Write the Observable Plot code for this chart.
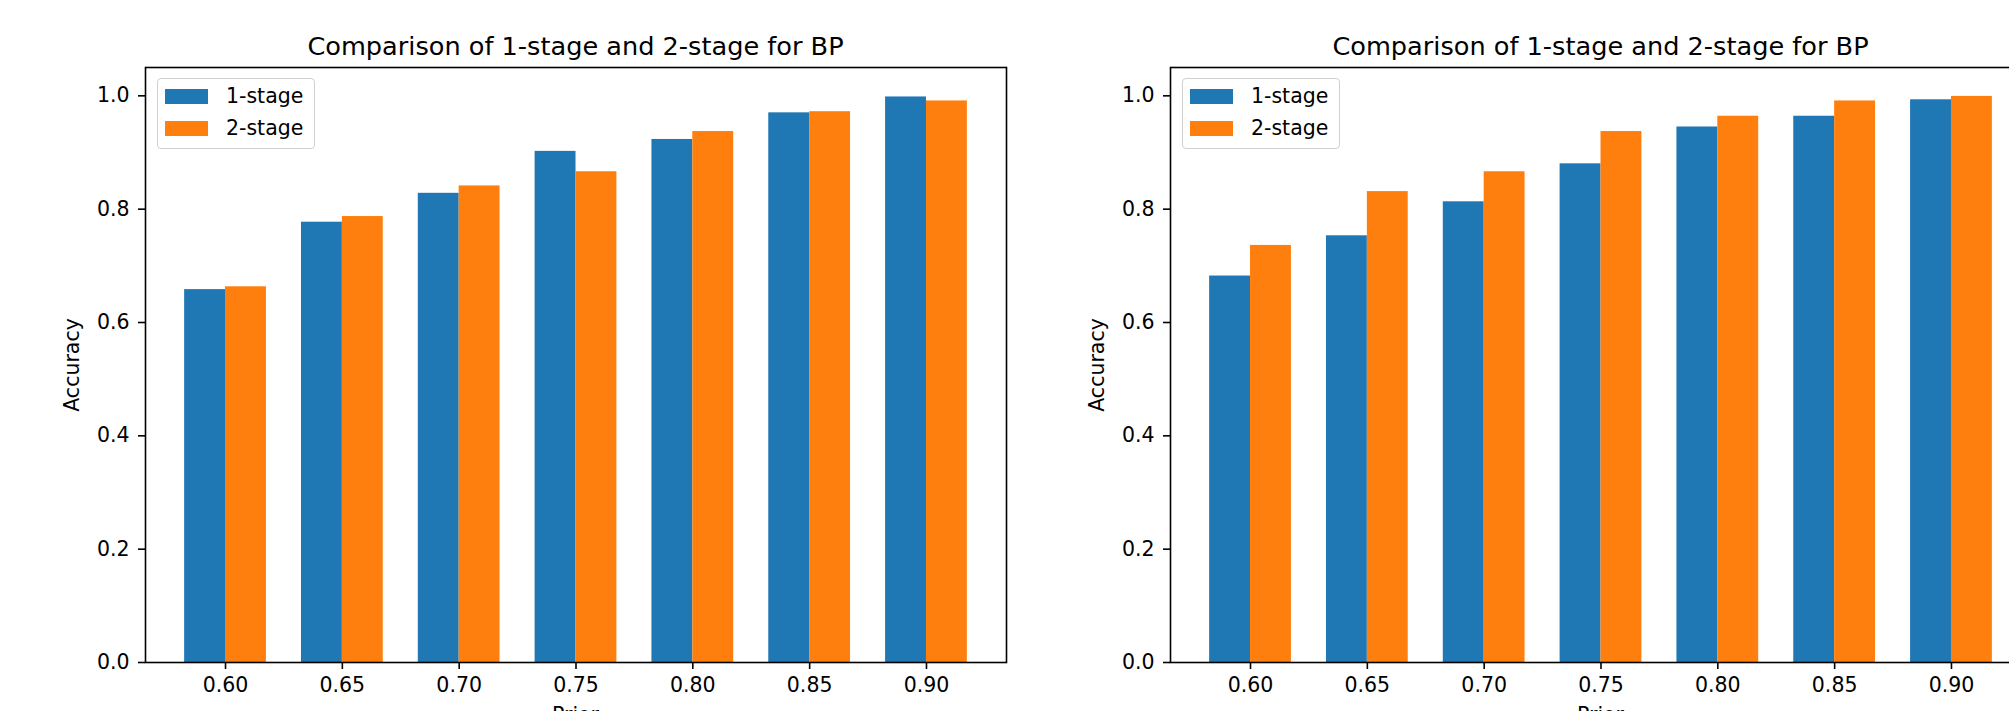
<!DOCTYPE html>
<html>
<head>
<meta charset="utf-8">
<script src="https://cdn.jsdelivr.net/npm/d3@7"></script>
<script src="https://cdn.jsdelivr.net/npm/@observablehq/plot@0.6"></script>
<style>
html, body { margin:0; padding:0; width:2009px; height:711px; overflow:hidden; background:#fff; font-family:"DejaVu Sans", sans-serif; color:#000; }
.panel { position:absolute; top:0; width:1025px; height:711px; }
.panel svg { position:absolute; left:0; top:0; }
.title { position:absolute; font-size:25.6px; line-height:25.6px; white-space:nowrap; transform:translateX(-50%); }
.ylab { position:absolute; font-size:20.5px; line-height:20.5px; white-space:nowrap; transform:translate(-50%,-50%) rotate(-90deg); }
.xlab { position:absolute; font-size:20.5px; line-height:20.5px; white-space:nowrap; transform:translateX(-50%); }
.legbox { position:absolute; box-sizing:border-box; border:1.6px solid #d0d0d0; border-radius:4px; background:rgba(255,255,255,0.8); }
.sw { position:absolute; width:43px; height:15px; }
.lt { position:absolute; font-size:20.5px; line-height:20.5px; white-space:nowrap; }
</style>
</head>
<body>
<script>
// ---- data ----
const priors = ["0.60", "0.65", "0.70", "0.75", "0.80", "0.85", "0.90"];
const seriesNames = ["1-stage", "2-stage"];
const seriesColors = ["#1f77b4", "#ff7f0e"];
const leftOneStage = [0.658, 0.777, 0.828, 0.902, 0.923, 0.970, 0.998];
const leftTwoStage = [0.663, 0.787, 0.841, 0.866, 0.937, 0.972, 0.991];
const rightOneStage = [0.682, 0.753, 0.813, 0.880, 0.945, 0.964, 0.993];
const rightTwoStage = [0.736, 0.831, 0.866, 0.937, 0.964, 0.991, 0.999];
const yTicks = [0, 0.2, 0.4, 0.6, 0.8, 1.0];
const titleText = "Comparison of 1-stage and 2-stage for BP";
const xLabel = "Prior";
const yLabel = "Accuracy";

const barW = 0.35;

function makePanel(left, v1, v2) {
  const panel = document.createElement("div");
  panel.className = "panel";
  panel.style.left = left + "px";
  document.body.appendChild(panel);

  const rows = [];
  priors.forEach((p, i) => {
    rows.push({i, series: seriesNames[0], value: v1[i], off: -barW});
    rows.push({i, series: seriesNames[1], value: v2[i], off: 0});
  });

  const chart = Plot.plot({
    width: 1025, height: 711,
    marginLeft: 145, marginRight: 19, marginTop: 67, marginBottom: 49,
    style: {fontFamily: "DejaVu Sans", fontSize: "20.5px", color: "#000", background: "transparent", overflow: "visible"},
    x: {domain: [-0.685, priors.length - 1 + 0.685]},
    y: {domain: [0, 1.05]},
    color: {domain: seriesNames, range: seriesColors},
    marks: [
      Plot.rectY(rows, {x1: d => d.i + d.off, x2: d => d.i + d.off + barW, y1: 0, y2: "value", fill: "series"}),
      Plot.axisX({ticks: d3.range(priors.length), tickFormat: i => priors[i], tickSize: 7, tickPadding: 8, strokeWidth: 1.6, label: null}),
      Plot.axisY({ticks: yTicks, tickFormat: d3.format(".1f"), tickSize: 7, tickPadding: 9, strokeWidth: 1.6, label: null}),
      Plot.frame({stroke: "#000", strokeWidth: 1.6})
    ]
  });
  panel.appendChild(chart);

  const t = document.createElement("div");
  t.className = "title"; t.textContent = titleText;
  t.style.left = "575.5px"; t.style.top = "33.6px";
  panel.appendChild(t);

  const yl = document.createElement("div");
  yl.className = "ylab"; yl.textContent = yLabel;
  yl.style.left = "72px"; yl.style.top = "364.5px";
  panel.appendChild(yl);

  const xl = document.createElement("div");
  xl.className = "xlab"; xl.textContent = xLabel;
  xl.style.left = "575.5px"; xl.style.top = "704.6px";
  panel.appendChild(xl);

  const box = document.createElement("div");
  box.className = "legbox";
  box.style.left = "156.7px"; box.style.top = "78.3px";
  box.style.width = "158.3px"; box.style.height = "71px";
  panel.appendChild(box);

  const swTops = [88.5, 120.5];
  const txTops = [86, 118.4];
  seriesNames.forEach((name, k) => {
    const sw = document.createElement("div");
    sw.className = "sw";
    sw.style.left = "165px"; sw.style.top = swTops[k] + "px";
    sw.style.background = seriesColors[k];
    panel.appendChild(sw);
    const lt = document.createElement("div");
    lt.className = "lt"; lt.textContent = name;
    lt.style.left = "226px"; lt.style.top = txTops[k] + "px";
    panel.appendChild(lt);
  });
}

makePanel(0, leftOneStage, leftTwoStage);
makePanel(1025, rightOneStage, rightTwoStage);
</script>
</body>
</html>
